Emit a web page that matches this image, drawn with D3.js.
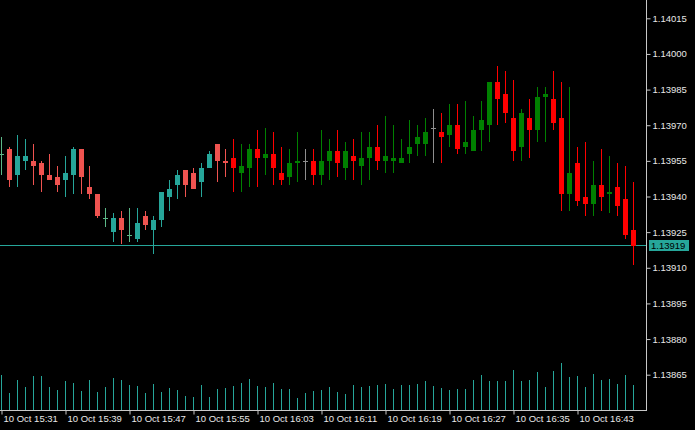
<!DOCTYPE html>
<html><head><meta charset="utf-8">
<script src="https://cdn.jsdelivr.net/npm/d3@7"></script>
<style>html,body{margin:0;padding:0;background:#000;overflow:hidden}</style>
</head><body><svg id="c" width="695" height="430"></svg>
<script>
const times = ["15:31","15:32","15:33","15:34","15:35","15:36","15:37","15:38","15:39","15:40",
"15:41","15:42","15:43","15:44","15:45","15:46","15:47","15:48","15:49","15:50",
"15:51","15:52","15:53","15:54","15:55","15:56","15:57","15:58","15:59","16:00",
"16:01","16:02","16:03","16:04","16:05","16:06","16:07","16:08","16:09","16:10",
"16:11","16:12","16:13","16:14","16:15","16:16","16:17","16:18","16:19","16:20",
"16:21","16:22","16:23","16:24","16:25","16:26","16:27","16:28","16:29","16:30",
"16:31","16:32","16:33","16:34","16:35","16:36","16:37","16:38","16:39","16:40",
"16:41","16:42","16:43","16:44","16:45","16:46","16:47","16:48","16:49","16:50"];
const open = [1.13958,1.13960,1.13949,1.13955,1.13955,1.13954,1.13949,1.13948,1.13947,1.13949,
1.13960,1.13944,1.13941,1.13931,1.13925,1.13931,1.13924,1.13922,1.13932,1.13926,
1.13930,1.13940,1.13945,1.13951,1.13950,1.13946,1.13952,1.13962,1.13955,1.13956,
1.13950,1.13952,1.13960,1.13956,1.13958,1.13950,1.13948,1.13954,1.13955,1.13955,
1.13949,1.13955,1.13959,1.13952,1.13957,1.13953,1.13956,1.13961,1.13955,1.13955,
1.13954,1.13958,1.13962,1.13962,1.13969,1.13967,1.13966,1.13970,1.13961,1.13959,
1.13968,1.13970,1.13988,1.13983,1.13973,1.13961,1.13973,1.13968,1.13982,1.13981,
1.13973,1.13941,1.13954,1.13940,1.13937,1.13945,1.13941,1.13944,1.13939,1.13926];
const high = [1.13965,1.13961,1.13966,1.13964,1.13962,1.13955,1.13958,1.13953,1.13957,1.13961,
1.13960,1.13953,1.13941,1.13935,1.13933,1.13934,1.13935,1.13935,1.13934,1.13932,
1.13942,1.13947,1.13951,1.13951,1.13952,1.13954,1.13959,1.13962,1.13960,1.13964,
1.13962,1.13962,1.13968,1.13969,1.13967,1.13961,1.13960,1.13967,1.13960,1.13960,
1.13968,1.13964,1.13968,1.13963,1.13964,1.13967,1.13967,1.13970,1.13974,1.13970,
1.13964,1.13972,1.13970,1.13973,1.13977,1.13975,1.13979,1.13979,1.13980,1.13974,
1.13980,1.13988,1.13995,1.13993,1.13989,1.13977,1.13981,1.13986,1.13986,1.13993,
1.13988,1.13986,1.13961,1.13963,1.13955,1.13960,1.13957,1.13954,1.13953,1.13946];
const low = [1.13949,1.13944,1.13944,1.13951,1.13945,1.13942,1.13947,1.13942,1.13940,1.13941,
1.13941,1.13939,1.13931,1.13927,1.13921,1.13920,1.13921,1.13921,1.13926,1.13916,
1.13927,1.13934,1.13939,1.13940,1.13943,1.13940,1.13952,1.13946,1.13948,1.13942,
1.13942,1.13944,1.13944,1.13949,1.13945,1.13945,1.13945,1.13946,1.13947,1.13945,
1.13945,1.13947,1.13948,1.13947,1.13947,1.13945,1.13947,1.13951,1.13950,1.13950,
1.13954,1.13954,1.13957,1.13957,1.13954,1.13954,1.13961,1.13958,1.13958,1.13959,
1.13959,1.13963,1.13970,1.13971,1.13955,1.13955,1.13956,1.13963,1.13963,1.13968,
1.13934,1.13934,1.13936,1.13932,1.13932,1.13934,1.13933,1.13932,1.13922,1.13911];
const close = [1.13958,1.13947,1.13957,1.13957,1.13953,1.13949,1.13947,1.13945,1.13950,1.13960,
1.13948,1.13941,1.13932,1.13931,1.13931,1.13926,1.13924,1.13929,1.13928,1.13930,
1.13942,1.13943,1.13949,1.13945,1.13943,1.13952,1.13958,1.13955,1.13954,1.13952,
1.13953,1.13960,1.13956,1.13958,1.13952,1.13947,1.13954,1.13955,1.13955,1.13949,
1.13955,1.13959,1.13954,1.13959,1.13955,1.13956,1.13961,1.13955,1.13957,1.13956,
1.13956,1.13961,1.13965,1.13967,1.13969,1.13965,1.13970,1.13960,1.13963,1.13968,
1.13972,1.13988,1.13981,1.13975,1.13959,1.13975,1.13968,1.13982,1.13983,1.13971,
1.13941,1.13950,1.13938,1.13937,1.13945,1.13940,1.13942,1.13936,1.13924,1.13919];
const volume = [35,17,30,23,34,34,23,20,29,27,
19,30,18,23,32,30,25,24,17,26,
18,22,20,14,13,25,13,21,22,24,
27,31,24,23,27,21,21,12,17,19,
20,23,18,16,25,23,24,25,26,21,
25,25,26,29,24,22,20,21,21,30,
35,29,29,29,40,29,30,38,23,39,
47,33,34,23,36,30,31,26,35,25];
const priceTicks = [1.13865,1.13880,1.13895,1.13910,1.13925,1.13940,1.13955,1.13970,1.13985,1.14000,1.14015];
const timeTicks = ["15:31","15:39","15:47","15:55","16:03","16:11","16:19","16:27","16:35","16:43"];
const timeTickLabels = ["10 Oct 15:31","10 Oct 15:39","10 Oct 15:47","10 Oct 15:55","10 Oct 16:03","10 Oct 16:11","10 Oct 16:19","10 Oct 16:27","10 Oct 16:35","10 Oct 16:43"];
const lastPrice = 1.13919;

const W = 695, H = 430, axisX = 646, axisY = 410;
const svg = d3.select("#c");
svg.append("rect").attr("width", W).attr("height", H).attr("fill", "#000");

const x = d3.scalePoint().domain(times).range([1, 633]);
const y = d3.scaleLinear().domain([1.13865, 1.14015]).range([374.7, 18.3]);
const v = d3.scaleLinear().domain([0, 47]).range([axisY, axisY - 47]);

const switchIdx = 29;
const palA = {up: "#26a69a", down: "#ef5350", doji: "#5cb888"};
const palB = {up: "#008000", down: "#ff0000", doji: "#8e8e8e"};

const data = times.map((t, i) => ({t, i, o: open[i], h: high[i], l: low[i], c: close[i], vol: volume[i]}));
const col = d => {
  const p = d.i < switchIdx ? palA : palB;
  return d.c > d.o ? p.up : d.c < d.o ? p.down : p.doji;
};
const R = Math.round;

// volumes
svg.append("g").attr("shape-rendering", "crispEdges").selectAll("rect").data(data).join("rect")
  .attr("x", d => R(x(d.t))).attr("width", 1)
  .attr("y", d => R(v(d.vol))).attr("height", d => axisY - R(v(d.vol)))
  .attr("fill", "#26a69a");

// price line
svg.append("rect").attr("x", 0).attr("width", axisX).attr("y", R(y(lastPrice)) - 1).attr("height", 1)
  .attr("fill", "#26a69a").attr("shape-rendering", "crispEdges");

// candles
const g = svg.append("g").attr("shape-rendering", "crispEdges");
const cg = g.selectAll("g").data(data).join("g");
cg.append("rect").attr("x", d => R(x(d.t))).attr("width", 1)
  .attr("y", d => R(y(d.h))).attr("height", d => Math.max(1, R(y(d.l)) - R(y(d.h))))
  .attr("fill", col);
cg.append("rect").attr("x", d => R(x(d.t)) - 2).attr("width", 5)
  .attr("y", d => R(y(Math.max(d.o, d.c))))
  .attr("height", d => Math.max(1, R(y(Math.min(d.o, d.c))) - R(y(Math.max(d.o, d.c)))))
  .attr("fill", col);

// axes lines
svg.append("rect").attr("x", axisX).attr("y", 0).attr("width", 1).attr("height", axisY + 1).attr("fill", "#c8c8c8").attr("shape-rendering", "crispEdges");
svg.append("rect").attr("x", 0).attr("y", axisY).attr("width", axisX + 1).attr("height", 1).attr("fill", "#c8c8c8").attr("shape-rendering", "crispEdges");

const font = "'Liberation Sans', Arial, sans-serif";
// right axis
const ra = svg.append("g").attr("transform", `translate(${axisX + 0.5},0)`)
  .call(d3.axisRight(y).tickValues(priceTicks).tickFormat(d3.format(".5f")).tickSize(4).tickPadding(2));
ra.select(".domain").remove();
ra.selectAll("line").attr("stroke", "#c8c8c8");
ra.selectAll("text").attr("fill", "#e8e8e8").attr("font-family", font).attr("font-size", "9.5px");

// bottom axis
const ba = svg.append("g").attr("transform", `translate(0,${axisY + 0.5})`)
  .call(d3.axisBottom(x).tickValues(timeTicks).tickFormat((d, i) => timeTickLabels[i]).tickSize(4).tickPadding(3));
ba.select(".domain").remove();
ba.selectAll("line").attr("stroke", "#c8c8c8").attr("transform", "translate(0.5,0)");
ba.selectAll("text").attr("fill", "#e8e8e8").attr("font-family", font).attr("font-size", "9.5px")
  .attr("text-anchor", "start").attr("x", 2).attr("y", 5).attr("dy", "0.71em");

// last price label
const ly = R(y(lastPrice));
svg.append("rect").attr("x", 649).attr("y", ly - 6).attr("width", 40).attr("height", 11).attr("fill", "#26a69a").attr("shape-rendering", "crispEdges");
svg.append("text").attr("x", 651).attr("y", ly).attr("dy", "0.35em").attr("fill", "#000")
  .attr("font-family", font).attr("font-size", "9.5px").text(d3.format(".5f")(lastPrice));
</script></body></html>
